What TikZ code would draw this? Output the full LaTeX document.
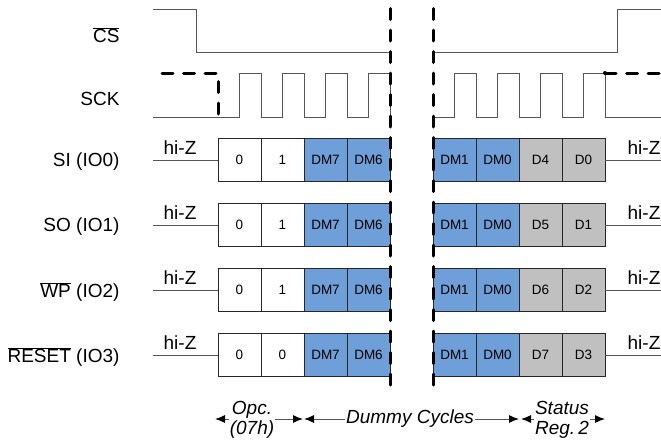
\documentclass[tikz,border=0pt]{standalone}
\usepackage{fontspec}
\setmainfont{Liberation Sans}
\usepackage{tikz}
\usetikzlibrary{
    arrows.meta,
    calc,
    positioning,
}
\definecolor{dmblue}{HTML}{6F9FD8}
\definecolor{datagray}{HTML}{C0C0C0}
\definecolor{wavegray}{HTML}{555555}
\newcommand{\ovl}[1]{$\overline{\hbox{#1}}$}
\tikzstyle{bit}=[draw=black!85, line width=1pt, minimum width=43pt, minimum height=43pt, inner sep=0pt, outer sep=0pt, font=\fontsize{13.5}{15}\selectfont]
\tikzstyle{dmbit}=[bit, fill=dmblue]
\tikzstyle{databit}=[bit, fill=datagray]
\tikzstyle{wave}=[draw=wavegray, line width=1pt]
\tikzstyle{breakline}=[draw=black, line width=3pt, dash pattern=on 11pt off 10.5pt, line cap=round]
\tikzstyle{dimline}=[{Latex[length=10pt, width=8pt, black]}-{Latex[length=10pt, width=8pt, black]}, draw=wavegray, line width=1pt]
\tikzstyle{note}=[font=\fontsize{19}{20}\selectfont\itshape, align=center, inner sep=1pt, fill=white]
\tikzset{every node/.style={font=\fontsize{19}{20}\selectfont}}

\begin{document}
\begin{tikzpicture}[x=1pt, y=-1pt]
            \useasboundingbox (0,0) rectangle (661,440);
            % signal names
            \node[anchor=east] (csname) at (123,35) {\ovl{CS}};
            \node[anchor=east] (sckname) at (123,99) {SCK};
            % chip select
            \draw[wave] (153,9) -- (196,9) -- (196,52) -- (390,52);
            \draw[wave] (433,52) -- (617,52) -- (617,9) -- (661,9);
            % clock
            \draw[breakline] (162,73) -- (218,73) -- (218,117);
            \draw[wave] (153,117) \foreach \t in {218,261,304,347} {-- (\t+21.5,117) -- (\t+21.5,73) -- (\t+43,73) -- (\t+43,117)};
            \draw[wave] (433,117) \foreach \t in {433,476,519,562} {-- (\t+21.5,117) -- (\t+21.5,73) -- (\t+43,73) -- (\t+43,117)} -- (661,117);
            \draw[breakline] (605,73) -- (661,73);
            \fill (605,73) circle (2pt);
            % data lines
            \foreach \row/\y/\lab/\b/\hi/\lo in {si/160/{SI (IO0)}/1/D4/D0, so/225/{SO (IO1)}/1/D5/D1, wp/290/{\ovl{WP} (IO2)}/1/D6/D2, rst/355/{\ovl{RESET} (IO3)}/0/D7/D3} {
                \node[anchor=east] (\row name) at (123,\y+2) {\lab};
                \node[bit, anchor=west] (\row1) at (218,\y) {0};
                \node[bit, right=0pt of \row1] (\row2) {\b};
                \node[dmbit, right=0pt of \row2] (\row3) {DM7};
                \node[dmbit, right=0pt of \row3] (\row4) {DM6};
                \node[dmbit, anchor=west] (\row5) at (433,\y) {DM1};
                \node[dmbit, right=0pt of \row5] (\row6) {DM0};
                \node[databit, right=0pt of \row6] (\row7) {\hi};
                \node[databit, right=0pt of \row7] (\row8) {\lo};
                \coordinate (\row in) at (153,\y);
                \coordinate (\row out) at (661,\y);
                \draw[wave] (\row in) -- (\row1.west);
                \draw[wave] (\row8.east) -- (\row out);
                \node (\row hizl) at (180,\y-12) {hi-Z};
                \node (\row hizr) at (644,\y-12) {hi-Z};
            }
            % break in the sequence
            \draw[breakline] (390,8.5) -- (390,385.5);
            \draw[breakline] (433,8.5) -- (433,385.5);
            % phases
            \coordinate (opcbeg) at (215,419);
            \coordinate (opcend) at (303,419);
            \coordinate (dumbeg) at (304,419);
            \coordinate (dumend) at (519,419);
            \coordinate (srbeg) at (521,419);
            \coordinate (srend) at (605,419);
            \draw[dimline] (opcbeg) -- (opcend);
            \draw[dimline] (dumbeg) -- (dumend);
            \draw[dimline] (srbeg) -- (srend);
            \node[note] (opc) at (252,420) {Opc.\\(07h)};
            \node[note] (dummy) at (410,419) {Dummy Cycles};
            \node[note] (sreg) at (562,420) {Status\\Reg.\,2};
        \end{tikzpicture}
\end{document}
